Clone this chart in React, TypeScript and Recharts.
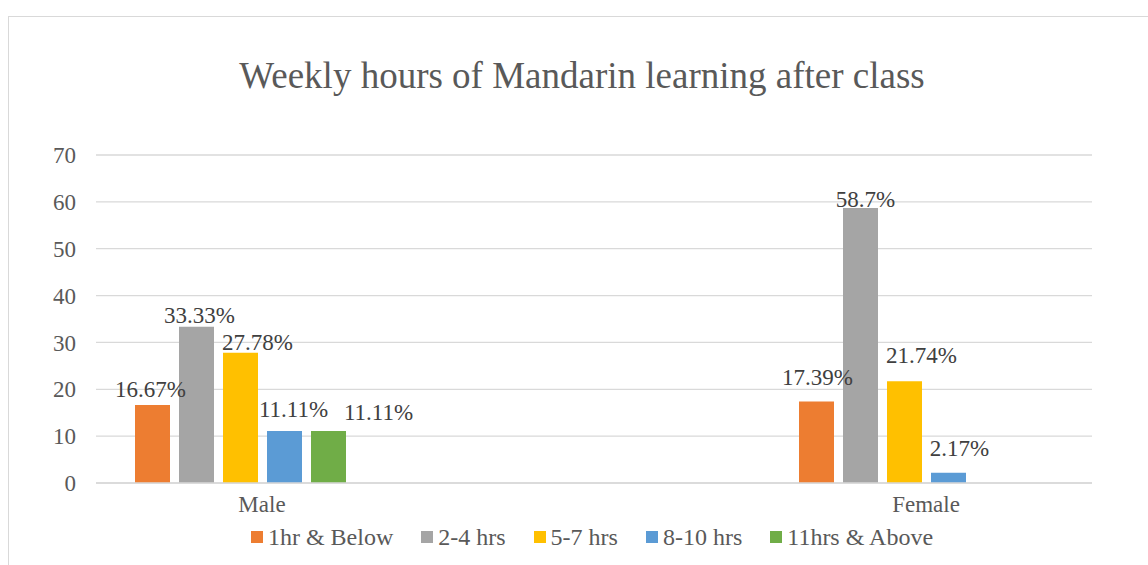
import React from "react";
import {
  Bar,
  BarChart,
  CartesianGrid,
  LabelList,
  Legend,
  XAxis,
  YAxis,
} from "recharts";

// ---------------------------------------------------------------------------
// Data
// ---------------------------------------------------------------------------

// The source chart keeps an empty middle row, which pushes Male/Female apart.
const categories = ["Male", " ", "Female"];

const seriesNames = ["1hr & Below", "2-4 hrs", "5-7 hrs", "8-10 hrs", "11hrs & Above"];
const seriesColors = ["#ED7D31", "#A5A5A5", "#FFC000", "#5B9BD5", "#70AD47"];

const below1hr = [16.67, null, 17.39];
const hrs2to4 = [33.33, null, 58.7];
const hrs5to7 = [27.78, null, 21.74];
const hrs8to10 = [11.11, null, 2.17];
const above11hrs = [11.11, null, null];
// empty sixth series: Excel still reserves a slot for it in every group
const blankSeries = [null, null, null];

const yTicks = [0, 10, 20, 30, 40, 50, 60, 70];

const seriesValues = [below1hr, hrs2to4, hrs5to7, hrs8to10, above11hrs];

const data = categories.map((category, i) => {
  const row: Record<string, string | number | null> = { category };
  seriesValues.forEach((vals, s) => {
    row[`s${s}`] = vals[i];
  });
  row.blank = blankSeries[i];
  return row;
});

// ---------------------------------------------------------------------------
// Styling
// ---------------------------------------------------------------------------

const FONT = '"Liberation Serif", "Times New Roman", serif';
const TEXT = "#595959";
const LABEL_TEXT = "#404040";
const GRID = "#d9d9d9";

// hand-placed data labels in the original: [dx from bar centre, baseline above bar top]
const labelNudge: Record<string, [number, number]> = {
  "0|Male": [-2, -8],
  "1|Male": [3, -4],
  "2|Male": [17, -3],
  "3|Male": [9, -14],
  "4|Male": [50, -11],
  "0|Female": [1, -17],
  "1|Female": [5, -1],
  "2|Female": [17, -18],
  "3|Female": [11, -17],
};

function makeLabel(seriesIndex: number) {
  return function BarValueLabel(props: any) {
    const { x, y, width, value } = props;
    if (value === null || value === undefined) return null;
    // LabelList indices skip empty rows, so look the category up by value
    const idx = seriesValues[seriesIndex].indexOf(value);
    const cat = props.payload?.category ?? categories[idx] ?? "";
    const [dx, dy] = labelNudge[`${seriesIndex}|${cat}`] ?? [0, -4];
    return (
      <text
        x={Number(x) + Number(width) / 2 + dx}
        y={Number(y) + dy}
        textAnchor="middle"
        fill={LABEL_TEXT}
        fontSize={23}
        fontFamily={FONT}
      >
        {`${value}%`}
      </text>
    );
  };
}

function LegendRow() {
  return (
    <div
      style={{
        display: "flex",
        justifyContent: "center",
        alignItems: "center",
        gap: 28,
        fontFamily: FONT,
        fontSize: 24,
        lineHeight: 1,
        color: TEXT,
      }}
    >
      {seriesNames.map((name, i) => (
        <div key={name} style={{ display: "flex", alignItems: "center", gap: 5 }}>
          <span
            style={{
              display: "inline-block",
              width: 12,
              height: 12,
              background: seriesColors[i],
            }}
          />
          <span style={{ whiteSpace: "nowrap" }}>{name}</span>
        </div>
      ))}
    </div>
  );
}

export default function App() {
  return (
    <div
      style={{
        position: "absolute",
        left: 0,
        top: 0,
        width: 1148,
        height: 565,
        overflow: "hidden",
        background: "#ffffff",
        fontFamily: FONT,
      }}
    >
      {/* chart frame, cropped on the right and bottom in the source */}
      <div
        style={{
          position: "absolute",
          left: 8,
          top: 16,
          width: 1200,
          height: 600,
          border: `1px solid ${GRID}`,
        }}
      />

      <div
        style={{
          position: "absolute",
          left: 0,
          top: 55,
          width: 1164,
          textAlign: "center",
          fontSize: 37,
          lineHeight: 1.15,
          color: TEXT,
        }}
      >
        Weekly hours of Mandarin learning after class
      </div>

      <div style={{ position: "absolute", left: 0, top: 0 }}>
        <BarChart
          width={1148}
          height={565}
          data={data}
          margin={{ top: 155, right: 56, bottom: 42, left: 0 }}
          barSize={35}
          barGap={9}
        >
          <CartesianGrid stroke={GRID} strokeWidth={1.3} vertical={false} />
          <XAxis
            dataKey="category"
            interval={0}
            height={40}
            tickLine={false}
            tickSize={0}
            tickMargin={13}
            axisLine={{ stroke: GRID, strokeWidth: 1.3 }}
            tick={{ fill: TEXT, fontSize: 23, fontFamily: FONT }}
          />
          <YAxis
            domain={[0, 70]}
            ticks={yTicks}
            interval={0}
            width={96}
            axisLine={false}
            tickLine={false}
            tickSize={0}
            tickMargin={20}
            tick={{ fill: TEXT, fontSize: 23, fontFamily: FONT }}
          />
          <Legend
            layout="horizontal"
            verticalAlign="middle"
            align="center"
            wrapperStyle={{ top: 525, left: 18, width: 1148 }}
            content={() => <LegendRow />}
          />
          {seriesNames.map((name, s) => (
            <Bar
              key={name}
              dataKey={`s${s}`}
              name={name}
              fill={seriesColors[s]}
              isAnimationActive={false}
            >
              <LabelList dataKey={`s${s}`} content={makeLabel(s)} />
            </Bar>
          ))}
          <Bar
            dataKey="blank"
            name="blank"
            legendType="none"
            fill="transparent"
            isAnimationActive={false}
          />
        </BarChart>
      </div>
    </div>
  );
}
